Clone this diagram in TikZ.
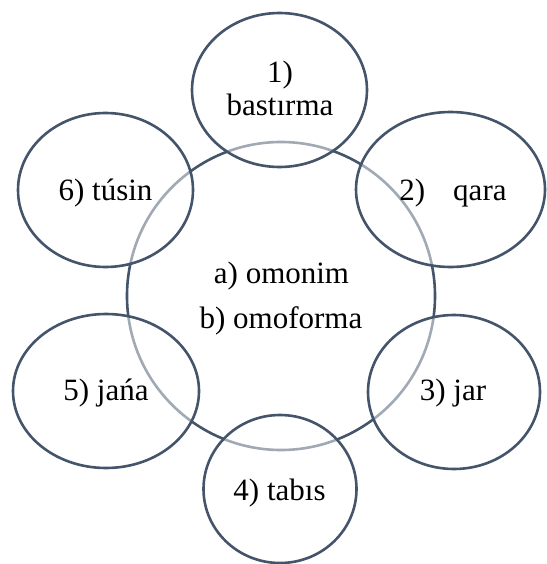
\documentclass[tikz,border=0pt]{standalone}
\usepackage{fontspec}
\setmainfont{Liberation Serif}
\usetikzlibrary{shapes.geometric}
\definecolor{ringc}{HTML}{44546A}
\tikzset{
  hub/.style={circle, draw=ringc, line width=2.6pt, fill=white, inner sep=0pt, minimum size=308pt},
  petal/.style={ellipse, draw=ringc, line width=2.6pt, fill=white, fill opacity=0.5, inner sep=0pt},
  lbl/.style={anchor=base, inner sep=0pt, font=\fontsize{31}{37}\selectfont, text=black}
}
\begin{document}
\begin{tikzpicture}[x=1pt,y=-1pt]
\useasboundingbox (0,0) rectangle (546,564);
\node[hub] (hub) at (281,296) {};
\node[petal, minimum width=175pt, minimum height=154pt] (p1) at (279.5,90) {};
\node[petal, minimum width=189pt, minimum height=155pt] (p2) at (450.5,189.5) {};
\node[petal, minimum width=172pt, minimum height=154pt] (p3) at (454,392) {};
\node[petal, minimum width=153pt, minimum height=148pt] (p4) at (280,489) {};
\node[petal, minimum width=186pt, minimum height=154pt] (p5) at (106,391) {};
\node[petal, minimum width=175pt, minimum height=154pt] (p6) at (105.5,190) {};
\node[lbl] (t1a) at (280,83) {1)};
\node[lbl] (t1b) at (280,116) {bastırma};
\node[lbl] (t2) at (453,200) {2)\hspace{28pt}qara};
\node[lbl] (t3) at (453,400) {3) jar};
\node[lbl] (t4) at (279.5,500) {4) tabıs};
\node[lbl] (t5) at (106,400) {5) jańa};
\node[lbl] (t6) at (105.5,200) {6) túsin};
\node[lbl] (ca) at (281.5,283) {a) omonim};
\node[lbl] (cb) at (281,328) {b) omoforma};
\end{tikzpicture}
\end{document}
